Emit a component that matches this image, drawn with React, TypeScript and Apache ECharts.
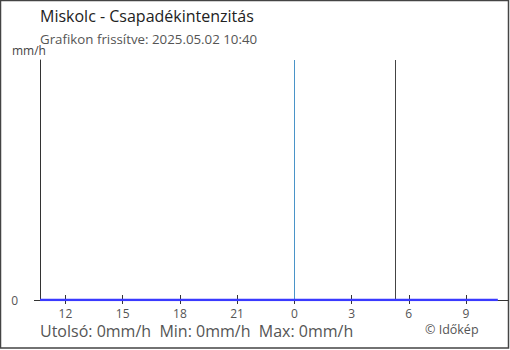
import React, { useEffect, useRef } from "react";
import * as echarts from "echarts";

// hours since 00:00 of the first day (10:40 -> 10:40 next day)
const times: number[] = [10.667, 12, 15, 18, 21, 24, 27, 30, 33, 34.667];
const intensity: number[] = [0, 0, 0, 0, 0, 0, 0, 0, 0, 0];
const tickHours: number[] = [12, 15, 18, 21, 24, 27, 30, 33];
const tickLabels: string[] = ["12", "15", "18", "21", "0", "3", "6", "9"];
const midnight: number[] = [24];
const sunrise: number[] = [29.27];
const title = "Miskolc - Csapadékintenzitás";
const subtitle = "Grafikon frissítve: 2025.05.02 10:40";
const footer = "Utolsó: 0mm/h\u00a0\u00a0Min: 0mm/h\u00a0\u00a0Max: 0mm/h";
const credit = "© Időkép";
const unit = "mm/h";

const FONT = "'Open Sans', 'Noto Sans', sans-serif";

export default function App() {
  const ref = useRef<HTMLDivElement>(null);
  useEffect(() => {
    if (!ref.current) return;
    const chart = echarts.init(ref.current, undefined, { renderer: "svg" });
    const labelMap: Record<string, string> = {};
    tickHours.forEach((h, i) => (labelMap[String(h)] = tickLabels[i]));
    chart.setOption({
      animation: false,
      backgroundColor: "#fff",
      textStyle: { fontFamily: FONT },
      grid: { left: 40, right: 2, top: 60, bottom: 50 },
      xAxis: [
        {
          type: "value",
          min: 10.667,
          max: 35.2,
          position: "bottom",
          axisLine: { show: true, onZero: false, lineStyle: { color: "#333", width: 1 } },
          axisTick: { show: true, customValues: tickHours, length: 4, lineStyle: { color: "#333" } },
          axisLabel: {
            show: true,
            customValues: tickHours,
            formatter: (v: number) => labelMap[String(v)] ?? "",
            color: "#555",
            fontSize: 12,
            fontFamily: FONT,
            margin: 7,
          },
          splitLine: { show: false },
        },
        {
          type: "value",
          min: 10.667,
          max: 35.2,
          position: "bottom",
          axisLine: { show: false, onZero: false },
          axisTick: { show: true, inside: true, customValues: tickHours, length: 5, lineStyle: { color: "#333" } },
          axisLabel: { show: false },
          splitLine: { show: false },
        },
      ],
      yAxis: {
        type: "value",
        min: 0,
        max: 1,
        axisLine: { show: true, lineStyle: { color: "#333" } },
        axisTick: { show: true, customValues: [0], length: 6, lineStyle: { color: "#333" } },
        axisLabel: {
          show: true,
          customValues: [0],
          color: "#555",
          fontSize: 12,
          fontFamily: FONT,
          margin: 22,
        },
        splitLine: { show: false },
      },
      series: [
        {
          type: "line",
          xAxisIndex: 0,
          data: times.map((t, i) => [t, intensity[i]]),
          showSymbol: false,
          lineStyle: { color: "#3a3aff", width: 2.5 },
          z: 5,
          markLine: {
            silent: true,
            symbol: ["none", "none"],
            label: { show: false },
            data: [
              ...midnight.map((x) => ({ xAxis: x, lineStyle: { color: "#4a94c8", width: 1, type: "solid" } })),
              ...sunrise.map((x) => ({ xAxis: x, lineStyle: { color: "#444", width: 1, type: "solid" } })),
            ],
          },
        },
      ],
      graphic: [
        {
          type: "rect",
          shape: { x: 0.5, y: 0.5, width: 508, height: 347.5 },
          style: { fill: "none", stroke: "#444", lineWidth: 1.5 },
          silent: true,
        },
        {
          type: "text",
          left: 40,
          top: 8,
          style: { text: title, fill: "#222", fontSize: 16, fontFamily: FONT },
        },
        {
          type: "text",
          left: 40,
          top: 32,
          style: { text: subtitle, fill: "#555", fontSize: 13.3, fontFamily: FONT },
        },
        {
          type: "text",
          left: 12,
          top: 44,
          style: { text: unit, fill: "#444", fontSize: 12, fontFamily: FONT },
        },
        {
          type: "text",
          left: 40,
          top: 323,
          style: { text: footer, fill: "#555", fontSize: 16, fontFamily: FONT },
        },
        {
          type: "text",
          left: 425,
          top: 323,
          style: { text: credit, fill: "#555", fontSize: 12.5, fontFamily: FONT },
        },
      ],
    });
    return () => chart.dispose();
  }, []);
  return (
    <div
      ref={ref}
      style={{ position: "fixed", left: 0, top: 0, width: 510, height: 350 }}
    />
  );
}
